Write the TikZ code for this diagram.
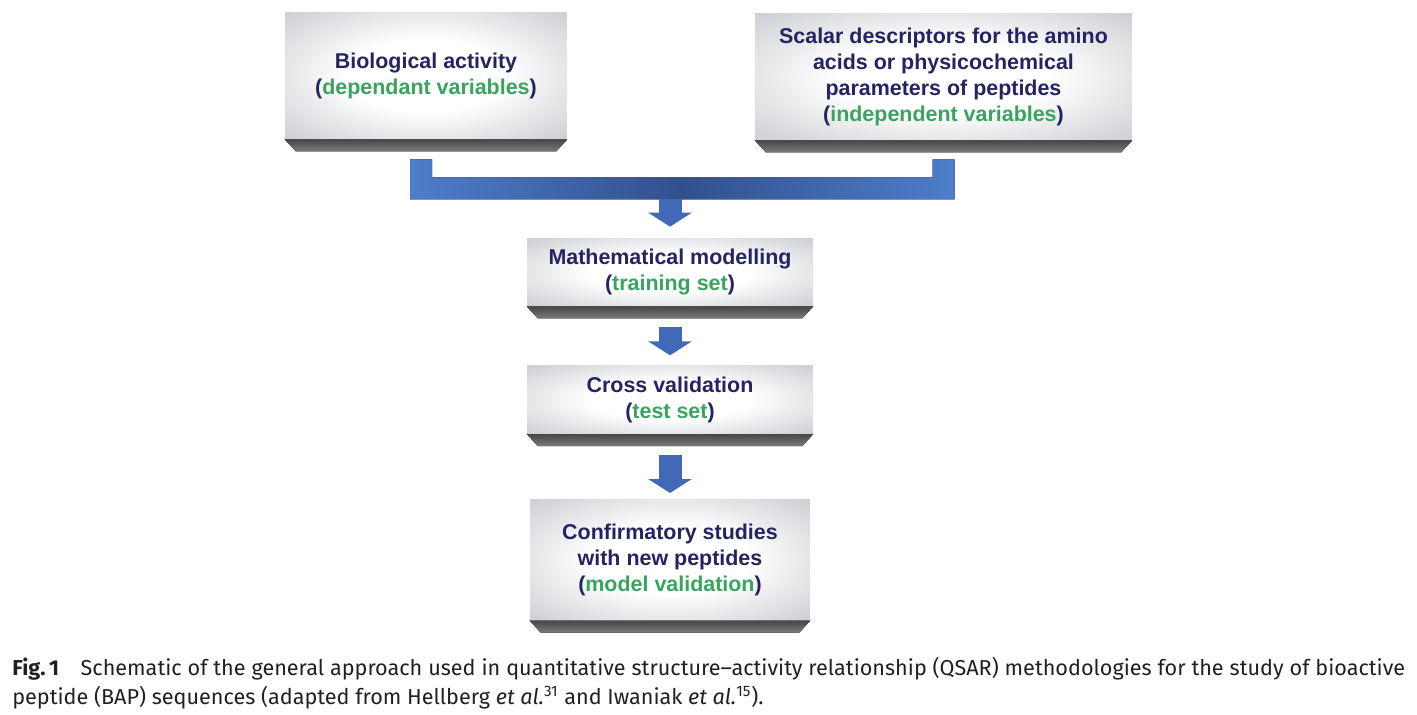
\documentclass[tikz,border=0pt]{standalone}
\usepackage{fontspec}
\setmainfont{Liberation Sans}
\newfontfamily\capfont{Fira Sans}
\usepackage{tikz}
\usetikzlibrary{positioning,calc,arrows.meta}

\definecolor{navytext}{RGB}{36,36,98}
\definecolor{greentext}{RGB}{58,163,96}
\definecolor{boxedge}{RGB}{170,173,180}
\definecolor{barlight}{RGB}{78,126,202}
\definecolor{bardark}{RGB}{50,80,142}
\definecolor{arrowblue}{RGB}{64,106,184}
\definecolor{captext}{RGB}{35,31,32}

\pgfdeclareradialshading{boxglow}{\pgfpoint{0bp}{0bp}}{color(0bp)=(white); color(14bp)=(white); color(50bp)=(boxedge); color(100bp)=(boxedge)}

\newcommand{\grn}[1]{(\textcolor{greentext}{#1})}
\newcommand{\boxbevel}[1]{\fill[bevel] (#1.south west) -- (#1.south east) -- ++(-11,12) -- ($(#1.south west)+(11,12)$) -- cycle;}

\tikzset{
  stepbox/.style={rectangle, shading=boxglow, align=center,
    text=navytext, font=\bfseries\fontsize{12.2}{14.8}\selectfont},
  bevel/.style={top color=black!72, bottom color=black!52},
  blockarr/.style={draw=arrowblue, line width=0.46cm, -{Triangle[width=0.86cm, length=0.28cm]}},
}

\begin{document}
\begin{tikzpicture}[x=0.02cm, y=-0.02cm]
  \useasboundingbox (0,0) rectangle (1417,714);
  % input boxes
  \node[stepbox, minimum width=5.64cm, minimum height=2.54cm] (bio) at (426,75.5)
    {Biological activity\\ \grn{dependant variables}};
  \node[stepbox, minimum width=7.54cm, minimum height=2.54cm] (scal) at (943.5,76.5)
    {Scalar descriptors for the amino\\ acids or physicochemical\\ parameters of peptides\\ \grn{independent variables}};
  % modelling chain
  \node[stepbox, minimum width=5.72cm, minimum height=1.36cm] (math) at (670,272)
    {Mathematical modelling\\ \grn{training set}};
  \node[stepbox, minimum width=5.72cm, minimum height=1.36cm, below=1.18cm of math] (cross)
    {Cross validation\\ \grn{test set}};
  \node[stepbox, minimum width=5.6cm, minimum height=2.42cm, below=1.3cm of cross] (conf)
    {Confirmatory studies\\ with new peptides\\ \grn{model validation}};
  \foreach \b in {bio,scal,math,cross,conf} {\boxbevel{\b}}

  % bracket joining the two inputs
  \coordinate (lt) at ($(bio.south)+(-5,20)$);
  \coordinate (rt) at ($(scal.south)+(0,19)$);
  \coordinate (barbot) at ($(lt)+(0,40)$);
  \fill[left color=barlight, right color=barlight, middle color=bardark]
    ($(lt)+(-11,0)$) -- ($(lt)+(11,0)$) |- ($(rt)+(-11,18)$) -- ($(rt)+(-11,0)$)
    -- ($(rt)+(11,0)$) |- ($(lt)+(-11,40)$) -- cycle;

  % arrows
  \draw[blockarr] (barbot -| math.north) -- ($(math.north)+(0,-11)$);
  \draw[blockarr, shorten <=0.42cm] (math.south) -- ($(cross.north)+(0,-10)$);
  \draw[blockarr, shorten <=0.42cm] (cross.south) -- ($(conf.north)+(0,-6)$);

  % caption
  \node[anchor=base west, inner sep=0pt, text=captext, font=\capfont\fontsize{12.3}{16}\selectfont] (cap1) at (12,675)
    {\makebox[27.86cm][s]{\textbf{Fig.\,1}\quad Schematic of the general approach used in quantitative structure–activity relationship (QSAR) methodologies for the study of bioactive}};
  \node[anchor=base west, inner sep=0pt, text=captext, font=\capfont\fontsize{12.3}{16}\selectfont] (cap2) at (12,704)
    {peptide (BAP) sequences (adapted from Hellberg \textit{et al.}\textsuperscript{31} and Iwaniak \textit{et al.}\textsuperscript{15}).};
\end{tikzpicture}
\end{document}
